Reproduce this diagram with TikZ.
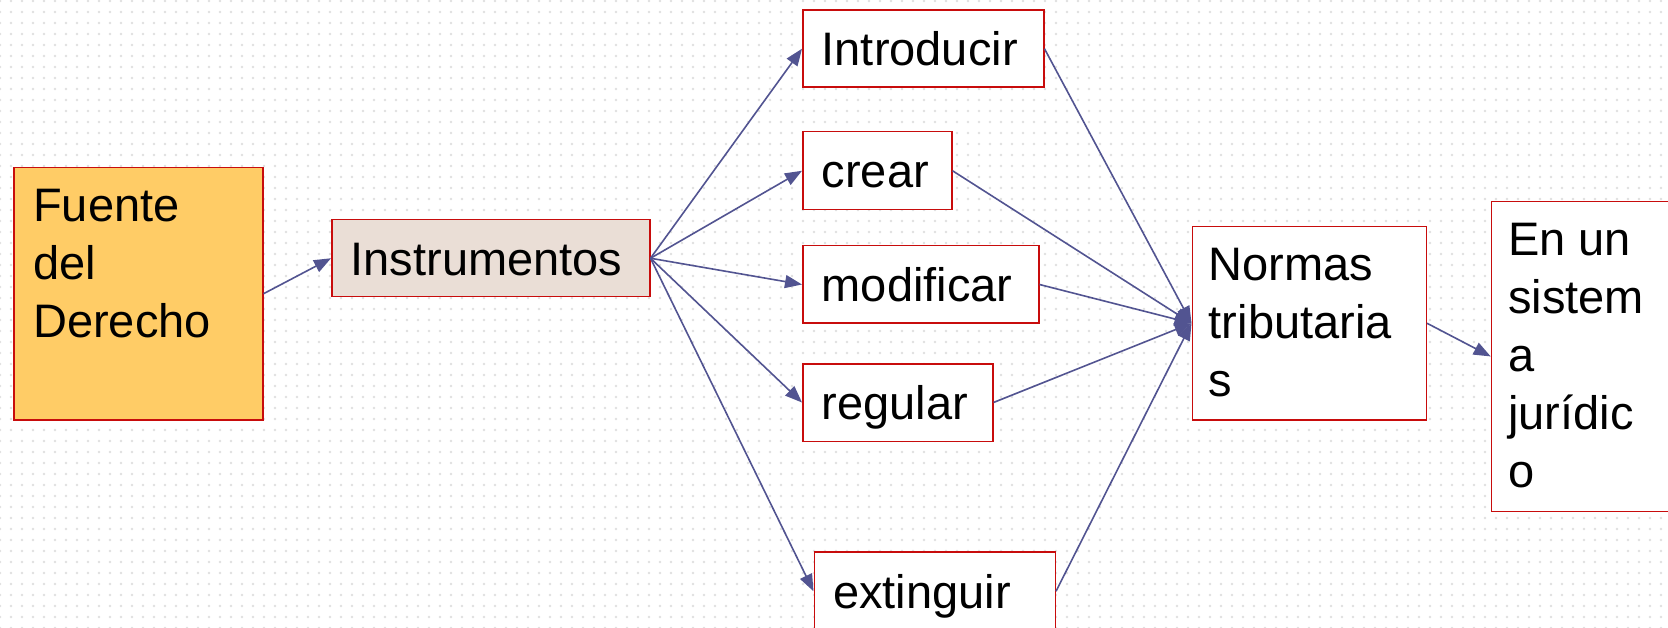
\documentclass[tikz,border=0pt]{standalone}
\usepackage{fontspec}
\setmainfont{Liberation Sans}
\usetikzlibrary{arrows.meta,patterns.meta}
\definecolor{boxred}{RGB}{200,12,12}
\definecolor{fuentefill}{RGB}{255,204,102}
\definecolor{instrfill}{RGB}{234,222,214}
\definecolor{conncol}{RGB}{82,84,145}
\begin{document}
\begin{tikzpicture}[x=1pt,y=-1pt,
  box/.style={draw=boxred,line width=1.5pt,rectangle,anchor=north west,inner ysep=0pt,inner xsep=19pt,
    font=\fontsize{47}{58}\selectfont,align=left,text height=33.7pt,text depth=0pt},
  bigbox/.style={draw=boxred,line width=1.5pt,rectangle,anchor=north west,inner sep=0pt},
  txt/.style={anchor=north west,inner sep=0pt,align=left,font=\fontsize{47}{58}\selectfont},
  conn/.style={draw=conncol,line width=1.6pt,-{Triangle[length=17pt,width=13pt]}}]
\useasboundingbox (0,0) rectangle (1668,628);
\fill[white] (0,0) rectangle (1668,628);
\fill[pattern={Dots[distance=11pt,radius=1.3pt]},pattern color=black!12] (0,0) rectangle (1668,628);

% left boxes
\node[bigbox,fill=fuentefill,minimum width=249pt,minimum height=252pt] (fuente) at (13,167) {};
\node[txt] (fuentetxt) at (33,189) {Fuente\\del\\Derecho};
\node[box,fill=instrfill,minimum width=318pt,minimum height=77pt,text width=280pt] (instr) at (331,219) {Instrumentos};

% middle column
\node[box,fill=white,minimum width=241pt,minimum height=77pt,text width=203pt] (intro) at (802,9.5) {Introducir};
\node[box,fill=white,minimum width=149pt,minimum height=78pt,text width=111pt] (crear) at (802,131) {crear};
\node[box,fill=white,minimum width=236pt,minimum height=77.5pt,text width=198pt] (modif) at (802,245) {modificar};
\node[box,fill=white,minimum width=190pt,minimum height=77.5pt,text width=152pt] (regul) at (802,363) {regular};
\node[box,fill=white,minimum width=241pt,minimum height=79pt,text width=203pt] (extin) at (813.5,551) {extinguir};

% right boxes
\node[bigbox,fill=white,minimum width=234pt,minimum height=193pt] (normas) at (1191.5,226) {};
\node[txt] (normastxt) at (1208.7,248) {Normas\\tributaria\\s};
\node[bigbox,fill=white,minimum width=200pt,minimum height=310pt] (enun) at (1490.7,200.7) {};
\node[txt] (enuntxt) at (1508,223) {En un\\sistem\\a\\jurídic\\o};

% connectors
\draw[conn] (fuente.east) -- (instr.west);
\foreach \t in {intro,crear,modif,regul,extin}{
  \draw[conn] (instr.east) -- (\t.west);
  \draw[conn] (\t.east) -- (normas.west);
}
\draw[conn] (normas.east) -- (enun.west);
\end{tikzpicture}
\end{document}
